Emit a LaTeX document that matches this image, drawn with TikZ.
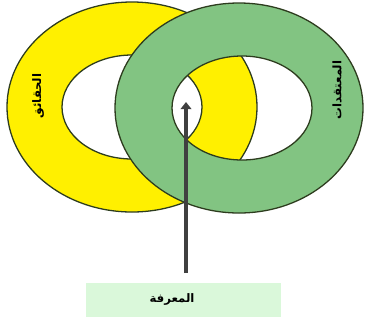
\documentclass[tikz,border=0pt]{standalone}
\usepackage{fontspec}
\usetikzlibrary{arrows.meta,positioning}
\newfontfamily\arabicfont[Script=Arabic]{DejaVu Sans}
\TeXXeTstate=1
\definecolor{ringyellow}{RGB}{255,240,0}
\definecolor{ringgreen}{RGB}{130,196,130}
\definecolor{ringline}{RGB}{45,60,30}
\definecolor{boxgreen}{RGB}{218,248,218}
\definecolor{arrowgray}{RGB}{64,64,64}

\begin{document}
\begin{tikzpicture}[x=0.03cm, y=-0.03cm,
  ring/.style={draw=ringline, line width=1.1pt, even odd rule},
  ringlabel/.style={font=\arabicfont\bfseries, rotate=90},
  labelbox/.style={fill=boxgreen, minimum width=5.85cm, minimum height=1.02cm},
  arrow/.style={-{Triangle[width=9pt,length=6pt]}, line width=3.4pt, draw=arrowgray}
]
\useasboundingbox (0,0) rectangle (367,323);

% yellow ring, then green ring on top
\path[ring, fill=ringyellow] (132,107) ellipse [x radius=125, y radius=105]
  (132,107) ellipse [x radius=70, y radius=52];
\path[ring, fill=ringgreen] (239,108) ellipse [x radius=124, y radius=105]
  (242,108) ellipse [x radius=70, y radius=52];

\node[ringlabel] (facts) at (38,96) {\beginR الحقائق\endR};
\node[ringlabel] (beliefs) at (337,90) {\beginR المعتقدات\endR};

\node[labelbox] (knowledgebox) at (183.5,300) {};
\node[font=\arabicfont\bfseries] (knowledge) at (172,299) {\beginR المعرفة\endR};

\coordinate (tail) at (186,273);
\coordinate (tip) at (186,102);
\draw[arrow] (tail) -- (tip);
\end{tikzpicture}
\end{document}
